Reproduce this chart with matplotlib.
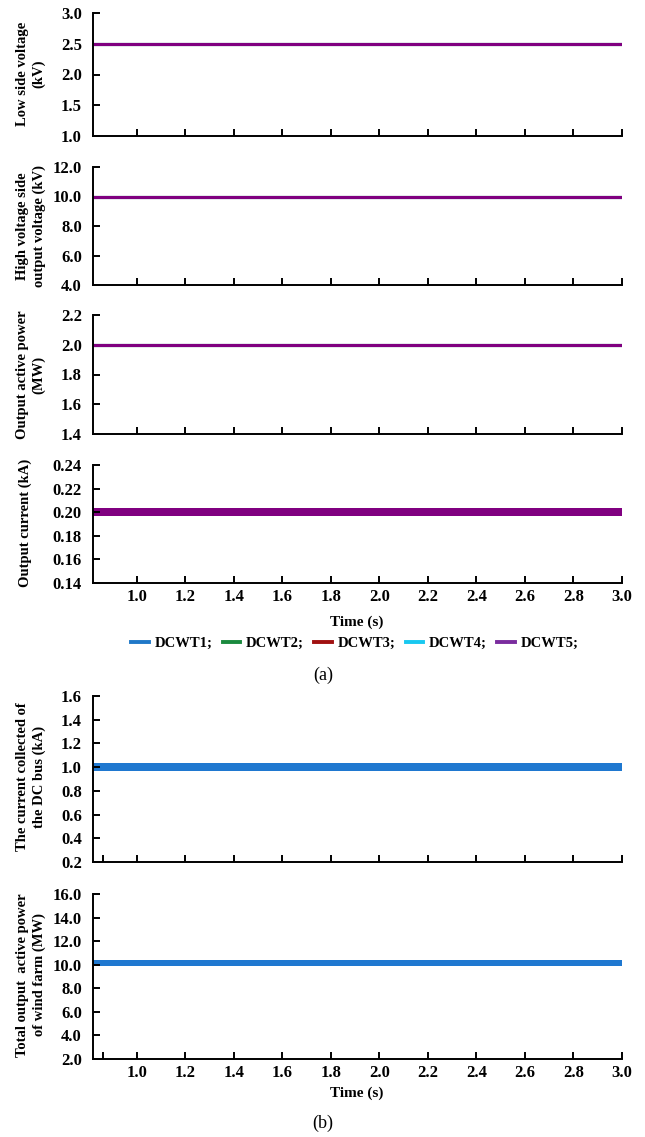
import matplotlib
matplotlib.use('Agg')
import matplotlib.pyplot as plt

# Data
time_s = [0.82, 3.0]
turbines = ['DCWT1', 'DCWT2', 'DCWT3', 'DCWT4', 'DCWT5']
colors = ['#1f78c8', '#1a8a3e', '#a01010', '#18c8f0', '#7a2c9e']
line_purple = '#800080'
bus_blue = '#1f78d0'

low_side_kV = [2.5, 2.5, 2.5, 2.5, 2.5]
high_side_kV = [10.0, 10.0, 10.0, 10.0, 10.0]
power_MW = [2.0, 2.0, 2.0, 2.0, 2.0]
current_lo_kA = [0.1965, 0.1965, 0.1965, 0.1965, 0.1965]
current_hi_kA = [0.2035, 0.2035, 0.2035, 0.2035, 0.2035]

bus_current_lo = 0.967
bus_current_hi = 1.033
farm_power_lo = 9.9
farm_power_hi = 10.4

xticks = [1.0, 1.2, 1.4, 1.6, 1.8, 2.0, 2.2, 2.4, 2.6, 2.8, 3.0]
xticklabels = ['%.1f' % v for v in xticks]

plt.rcParams['font.family'] = ['Liberation Serif', 'DejaVu Serif']
plt.rcParams['font.weight'] = 'bold'
plt.rcParams['font.size'] = 12

fig = plt.figure(figsize=(6.45, 11.37), dpi=100)
W, H = 645.0, 1137.0


def make_ax(top, bottom, ylim, yticks, fmt, labels_on, extra_tick=False):
    ax = fig.add_axes([93 / W, 1 - bottom / H, 529 / W, (bottom - top) / H])
    ax.set_xlim(time_s[0], time_s[1])
    ax.set_ylim(ylim)
    ax.set_yticks(yticks)
    ax.set_yticklabels([fmt % v for v in yticks], fontweight='bold', fontsize=12)
    ticks = ([0.86] if extra_tick else []) + xticks
    ax.set_xticks(ticks)
    if labels_on:
        ax.set_xticklabels(([''] if extra_tick else []) + xticklabels,
                           fontweight='bold', fontsize=12)
    else:
        ax.set_xticklabels([])
    for s in ['top', 'right']:
        ax.spines[s].set_visible(False)
    for s in ['left', 'bottom']:
        ax.spines[s].set_linewidth(1.4)
    ax.tick_params(direction='in', length=5, width=1.4)
    ax.tick_params(axis='y', pad=8)
    ax.tick_params(axis='x', pad=4)
    return ax


# (a) panels
ax1 = make_ax(13, 136, (1.0, 3.0), [1.0, 1.5, 2.0, 2.5, 3.0], '%.1f', False)
for i in range(5):
    c = line_purple if i == 4 else colors[i]
    ax1.plot(time_s, [low_side_kV[i]] * 2, color=c, lw=2.2)

ax2 = make_ax(167, 285, (4.0, 12.0), [4.0, 6.0, 8.0, 10.0, 12.0], '%.1f', False)
for i in range(5):
    c = line_purple if i == 4 else colors[i]
    ax2.plot(time_s, [high_side_kV[i]] * 2, color=c, lw=2.2)

ax3 = make_ax(315, 434, (1.4, 2.2), [1.4, 1.6, 1.8, 2.0, 2.2], '%.1f', False)
for i in range(5):
    c = line_purple if i == 4 else colors[i]
    ax3.plot(time_s, [power_MW[i]] * 2, color=c, lw=2.2)

ax4 = make_ax(465, 583, (0.14, 0.24), [0.14, 0.16, 0.18, 0.20, 0.22, 0.24], '%.2f', True)
for i in range(5):
    c = line_purple if i == 4 else colors[i]
    ax4.fill_between(time_s, [current_lo_kA[i]] * 2, [current_hi_kA[i]] * 2,
                     color=c, lw=0)

# (b) panels
ax5 = make_ax(696, 862, (0.2, 1.6), [0.2, 0.4, 0.6, 0.8, 1.0, 1.2, 1.4, 1.6], '%.1f',
              False, extra_tick=True)
ax5.fill_between(time_s, [bus_current_lo] * 2, [bus_current_hi] * 2, color=bus_blue, lw=0)

ax6 = make_ax(894, 1059, (2.0, 16.0), [2.0, 4.0, 6.0, 8.0, 10.0, 12.0, 14.0, 16.0], '%.1f',
              True, extra_tick=True)
ax6.fill_between(time_s, [farm_power_lo] * 2, [farm_power_hi] * 2, color=bus_blue, lw=0)

# y labels
ylabels = [
    ('Low side voltage\n(kV)', 74),
    ('High voltage side\noutput voltage (kV)', 226),
    ('Output active power\n(MW)', 375),
    ('Output current (kA)', 523),
    ('The current collected of\nthe DC bus (kA)', 777),
    ('Total output  active power\nof wind farm (MW)', 975),
]
for txt, yc in ylabels:
    xc = 25 if '\n' not in txt else 31
    fig.text(xc / W, 1 - yc / H, txt, rotation=90, ha='center', va='center',
             fontweight='bold', fontsize=10.5, linespacing=1.25)

fig.text(357 / W, 1 - 622 / H, 'Time (s)', ha='center', va='center',
         fontweight='bold', fontsize=11)
fig.text(357 / W, 1 - 1093 / H, 'Time (s)', ha='center', va='center',
         fontweight='bold', fontsize=11)

handles = [plt.Line2D([], [], color=c, lw=2.8) for c in colors]
fig.legend(handles, [t + ';' for t in turbines], loc='center', ncol=5,
           bbox_to_anchor=(355 / W, 1 - 643 / H), frameon=False,
           handlelength=1.2, handletextpad=0.4, columnspacing=0.7,
           prop={'weight': 'bold', 'size': 10.5})

fig.text(323 / W, 1 - 675 / H, '(a)', ha='center', va='center', fontweight='normal', fontsize=13)
fig.text(323 / W, 1 - 1123 / H, '(b)', ha='center', va='center', fontweight='normal', fontsize=13)

fig.savefig('out.png', dpi=100)
